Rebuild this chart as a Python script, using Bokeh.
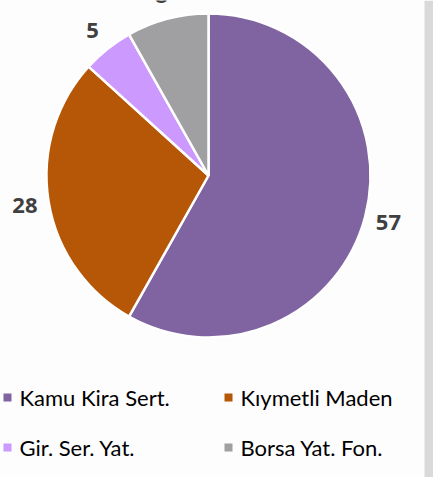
import math
from bokeh.plotting import figure
from bokeh.models import Range1d, BoxAnnotation, ColumnDataSource
from bokeh.core.properties import value
from bokeh.embed import file_html
from bokeh.resources import INLINE

# ---- data ----
categories = ["Kamu Kira Sert.", "Kıymetli Maden", "Gir. Ser. Yat.", "Borsa Yat. Fon."]
values = [57, 28, 5, 8]
colors = ["#8064a2", "#b65708", "#cc99ff", "#a0a0a2"]

# ---- layout constants (pixels, y measured upward) ----
W, H = 433, 477
CX, CY, R = 208, 477 - 175, 162
LABEL_R = R + 24

total = sum(values)
starts, ends, lx, ly = [], [], [], []
cum = 0.0
for v in values:
    s = math.pi / 2 - 2 * math.pi * cum / total
    e = s - 2 * math.pi * v / total
    starts.append(s)
    ends.append(e)
    m = (s + e) / 2
    lx.append(CX + LABEL_R * math.cos(m))
    ly.append(CY + LABEL_R * math.sin(m))
    cum += v

src = ColumnDataSource(dict(cat=categories, val=values, col=colors,
                            start=starts, end=ends, lx=lx, ly=ly,
                            txt=[str(v) for v in values]))

p = figure(width=W, height=H, output_backend="svg", toolbar_location=None,
           x_range=Range1d(0, W), y_range=Range1d(0, H), min_border=0)
p.axis.visible = False
p.grid.visible = False
p.outline_line_color = None
p.background_fill_color = "#fdfdfd"
p.border_fill_color = "#fdfdfd"

# right grey strip
p.add_layout(BoxAnnotation(left=424, right=W, fill_color="#d9d9d9", fill_alpha=1, line_color=None))

p.wedge(x=CX, y=CY, radius=R, start_angle="start", end_angle="end", direction="clock",
        fill_color="col", line_color="white", line_width=2.5, source=src)

p.text(x="lx", y="ly", text="txt", source=src, text_align="center", text_baseline="middle",
       text_font=value("Open Sans"), text_font_style="bold", text_font_size="22px",
       text_color="#404040")

# legend (2 columns x 2 rows)
leg_x0, leg_dx = 7, 221
leg_y0, leg_dy = 477 - 397, 50
sq_x = [leg_x0 + (i % 2) * leg_dx for i in range(len(categories))]
sq_y = [leg_y0 - (i // 2) * leg_dy for i in range(len(categories))]
tx = [x + 12 for x in sq_x]
lsrc = ColumnDataSource(dict(sx=sq_x, sy=sq_y, tx=tx, cat=categories, col=colors))
p.scatter(x="sx", y="sy", marker="square", size=8, fill_color="col", line_color=None, source=lsrc)
p.text(x="tx", y="sy", text="cat", source=lsrc, text_align="left", text_baseline="middle",
       text_font=value("Lato"), text_font_size="22px", text_color="#000000")

open("out.html", "w").write(file_html(p, INLINE))
